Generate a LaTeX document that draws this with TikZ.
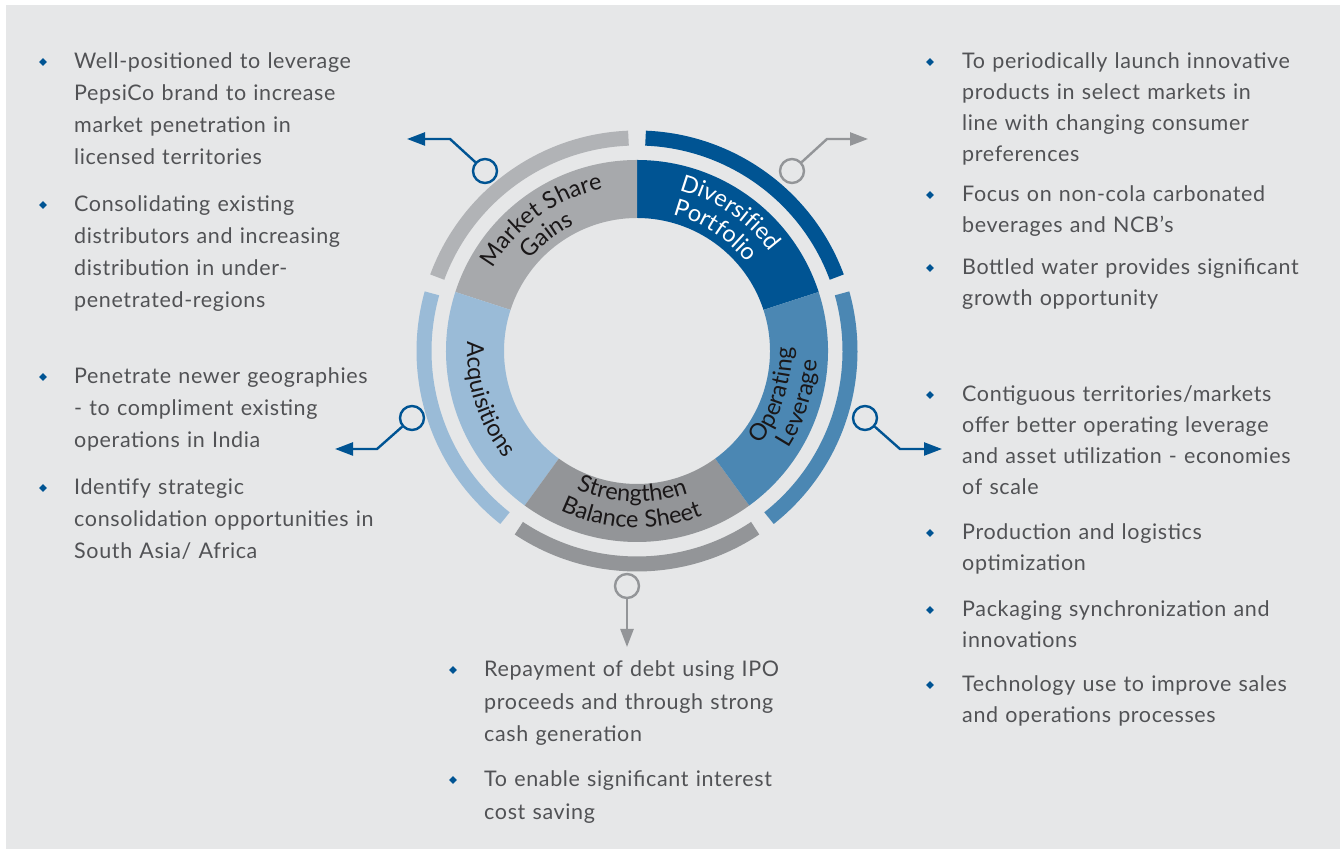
\documentclass[tikz,border=0pt]{standalone}
\usepackage{fontspec}
\setmainfont{Lato}[LetterSpace=3]
\usetikzlibrary{arrows.meta,shapes.geometric,decorations.text,calc}
\definecolor{bg}{HTML}{E6E7E8}
\definecolor{txt}{HTML}{515255}
\definecolor{dblue}{HTML}{005493}
\definecolor{mblue}{HTML}{4B87B3}
\definecolor{lblue}{HTML}{9ABBD7}
\definecolor{gmkt}{HTML}{A7A9AC}
\definecolor{gmkto}{HTML}{B1B3B6}
\definecolor{gbal}{HTML}{939598}
\definecolor{lbl}{HTML}{1A1718}
\newcommand\lblfont{\fontsize{23.5}{26}\selectfont}
\tikzset{
  bullettext/.style={anchor=base west, inner sep=0pt, text width=#1, align=left, text=txt},
  bulletmark/.style={diamond, fill=dblue, inner sep=0pt, minimum size=8pt},
  hub/.style={circle, draw=#1, fill=bg, line width=2.4pt, minimum size=24pt, inner sep=0pt},
  conn/.style={draw=#1, line width=2.4pt, -{Triangle[length=18pt,width=13pt]}},
}
\begin{document}
\begin{tikzpicture}[x=1pt,y=1pt]
\useasboundingbox (0,0) rectangle (1340,850);
\fill[white] (0,0) rectangle (1340,850);
\fill[bg] (6,1) rectangle (1340,845);
\coordinate (C) at (637,499);
% inner donut segments
\newcommand\seg[3]{\fill[#3] ($(C)+(#1:133)$) arc[start angle=#1,end angle=#2,radius=133] -- ($(C)+(#2:191)$) arc[start angle=#2,end angle=#1,radius=191] -- cycle;}
\seg{18}{90}{dblue}
\seg{90}{162}{gmkt}
\seg{162}{234}{lblue}
\seg{234}{306}{gbal}
\seg{-54}{18}{mblue}
% outer arcs
\newcommand\oarc[3]{\draw[#3,line width=15pt] ($(C)+(#1:213)$) arc[start angle=#1,end angle=#2,radius=213];}
\oarc{20.3}{87.7}{dblue}
\oarc{92.3}{159.7}{gmkto}
\oarc{164.3}{231.7}{lblue}
\oarc{236.3}{303.7}{gbal}
\oarc{-51.7}{15.7}{mblue}
% ring labels
\path[decorate,decoration={text along path,text align=center,text={|\lblfont\color{lbl}|Market Share}}] ($(C)+(170:166)$) arc[start angle=170,end angle=82,radius=166];
\path[decorate,decoration={text along path,text align=center,text={|\lblfont\color{lbl}|Gains}}] ($(C)+(172:141)$) arc[start angle=172,end angle=84,radius=141];
\path[decorate,decoration={text along path,text align=center,text={|\lblfont\color{white}|Diversified}}] ($(C)+(100:166)$) arc[start angle=100,end angle=12,radius=166];
\path[decorate,decoration={text along path,text align=center,text={|\lblfont\color{white}|Portfolio}}] ($(C)+(101:141)$) arc[start angle=101,end angle=13,radius=141];
\path[decorate,decoration={text along path,text align=center,text={|\lblfont\color{lbl}|Operating}}] ($(C)+(-62:155)$) arc[start angle=-62,end angle=26,radius=155];
\path[decorate,decoration={text along path,text align=center,text={|\lblfont\color{lbl}|Leverage}}] ($(C)+(-62:180)$) arc[start angle=-62,end angle=26,radius=180];
\path[decorate,decoration={text along path,text align=center,text={|\lblfont\color{lbl}|Acquisitions}}] ($(C)+(154:170)$) arc[start angle=154,end angle=242,radius=170];
\path[decorate,decoration={text along path,text align=center,text={|\lblfont\color{lbl}|Strengthen}}] ($(C)+(-136:151)$) arc[start angle=-136,end angle=-48,radius=151];
\path[decorate,decoration={text along path,text align=center,text={|\lblfont\color{lbl}|Balance Sheet}}] ($(C)+(-136:177)$) arc[start angle=-136,end angle=-48,radius=177];
% connectors
\node[hub=dblue] (h1) at (485,679) {};
\coordinate (k1) at (450,711);
\coordinate (e1) at (407,711);
\draw[conn=dblue] (h1) -- (k1) -- (e1);
\node[hub=gbal] (h2) at (792,679) {};
\coordinate (k2) at (827,711);
\coordinate (e2) at (868,711);
\draw[conn=gbal] (h2) -- (k2) -- (e2);
\node[hub=dblue] (h3) at (865,432) {};
\coordinate (k3) at (900,401);
\coordinate (e3) at (942,401);
\draw[conn=dblue] (h3) -- (k3) -- (e3);
\node[hub=dblue] (h4) at (412,432) {};
\coordinate (k4) at (377,401);
\coordinate (e4) at (335,401);
\draw[conn=dblue] (h4) -- (k4) -- (e4);
\node[hub=gbal] (h5) at (627,264) {};
\coordinate (e5) at (627,203);
\draw[conn=gbal] (h5) -- (e5);
% bullet texts
\begin{scope}[font=\fontsize{21.5}{31.7}\selectfont]
\node[bulletmark] (dl1) at (43,788) {};
\node[bullettext=330pt] (tl1) at (74,781) {Well-positioned to leverage\\PepsiCo brand to increase\\market penetration in\\licensed territories};
\node[bulletmark] (dl2) at (43,645) {};
\node[bullettext=330pt] (tl2) at (74,638) {Consolidating existing\\distributors and increasing\\distribution in under-\\penetrated-regions};
\node[bulletmark] (dl3) at (43,473) {};
\node[bullettext=330pt] (tl3) at (74,466) {Penetrate newer geographies\\- to compliment existing\\operations in India};
\node[bulletmark] (dl4) at (43,362) {};
\node[bullettext=330pt] (tl4) at (74,355) {Identify strategic\\consolidation opportunities in\\South Asia/ Africa};
\end{scope}
\begin{scope}[font=\fontsize{21.5}{30.8}\selectfont]
\node[bulletmark] (dr1) at (930,788) {};
\node[bullettext=375pt] (tr1) at (962,781) {To periodically launch innovative\\products in select markets in\\line with changing consumer\\preferences};
\node[bulletmark] (dr2) at (930,655) {};
\node[bullettext=375pt] (tr2) at (962,648) {Focus on non-cola carbonated\\beverages and NCB’s};
\node[bulletmark] (dr3) at (930,582) {};
\node[bullettext=375pt] (tr3) at (962,575) {Bottled water provides significant\\growth opportunity};
\node[bulletmark] (dr4) at (930,455) {};
\node[bullettext=375pt] (tr4) at (962,448) {Contiguous territories/markets\\offer better operating leverage\\and asset utilization - economies\\of scale};
\node[bulletmark] (dr5) at (930,317) {};
\node[bullettext=375pt] (tr5) at (962,310) {Production and logistics\\optimization};
\node[bulletmark] (dr6) at (930,240) {};
\node[bullettext=375pt] (tr6) at (962,233) {Packaging synchronization and\\innovations};
\node[bulletmark] (dr7) at (930,165) {};
\node[bullettext=375pt] (tr7) at (962,158) {Technology use to improve sales\\and operations processes};
\end{scope}
\begin{scope}[font=\fontsize{21.5}{32.5}\selectfont]
\node[bulletmark] (db1) at (453,180) {};
\node[bullettext=345pt] (tb1) at (484,173) {Repayment of debt using IPO\\proceeds and through strong\\cash generation};
\node[bulletmark] (db2) at (453,70) {};
\node[bullettext=345pt] (tb2) at (484,63) {To enable significant interest\\cost saving};
\end{scope}
\end{tikzpicture}
\end{document}
